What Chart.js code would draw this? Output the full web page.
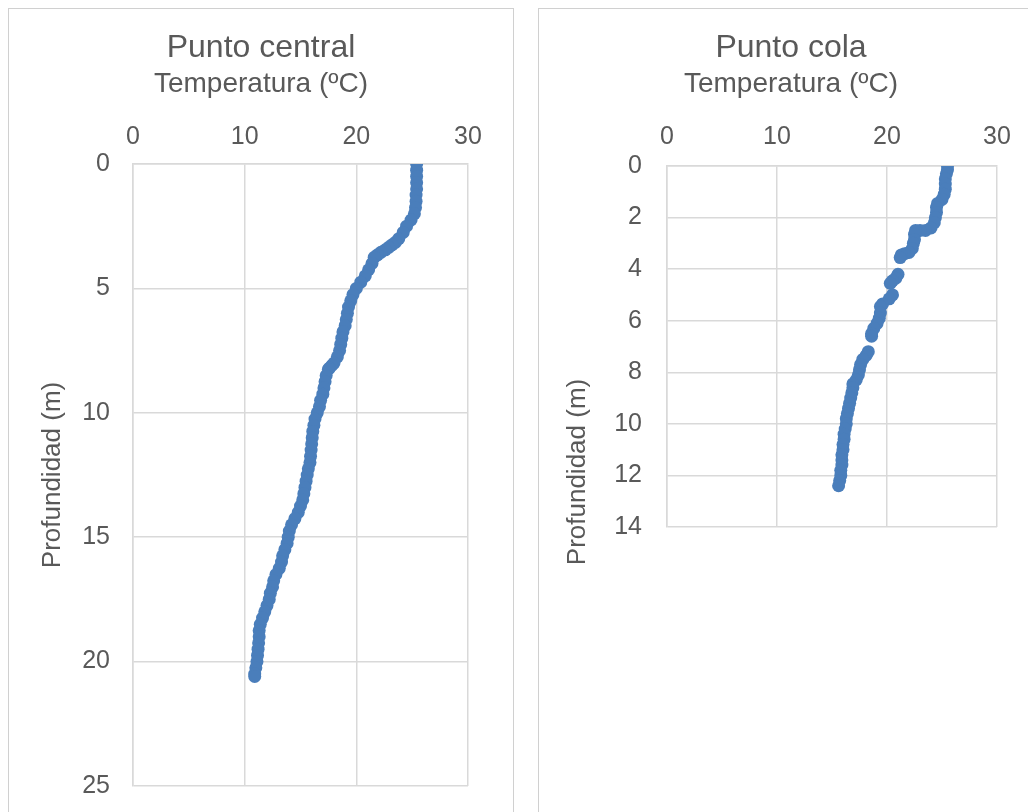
<!DOCTYPE html>
<html>
<head>
<meta charset="utf-8">
<script src="https://cdn.jsdelivr.net/npm/chart.js@4"></script>
<style>
  html, body { margin:0; padding:0; background:#ffffff; width:1028px; height:812px; overflow:hidden; }
  .panel { position:absolute; border:1px solid #d0d0d0; width:504px; height:830px; top:8px; }
  canvas { position:absolute; }
</style>
</head>
<body>
<div class="panel" style="left:8px"></div>
<div class="panel" style="left:538px"></div>
<canvas id="c1" width="502" height="814" style="left:10px;top:10px"></canvas>
<canvas id="c2" width="502" height="802" style="left:540px;top:10px"></canvas>
<script>
// ---- Data ----
const centralDepth = [0,0.25,0.5,0.75,1,1.25,1.5,1.75,2,2.25,2.5,2.75,3,3.15,3.25,3.35,3.45,3.55,3.65,3.75,4,4.25,4.5,4.75,5,5.25,5.5,5.75,6,6.25,6.5,6.75,7,7.25,7.5,7.75,8,8.1,8.2,8.25,8.5,8.75,9,9.25,9.5,9.75,10,10.25,10.5,10.75,11,11.25,11.5,11.75,12,12.25,12.5,12.75,13,13.25,13.5,13.75,14,14.25,14.5,14.75,15,15.25,15.5,15.75,16,16.25,16.5,16.75,17,17.25,17.5,17.75,18,18.25,18.5,18.75,19,19.25,19.5,19.75,20,20.25,20.5,20.6];
const centralTemp  = [25.4,25.4,25.4,25.4,25.4,25.35,25.35,25.3,25.2,24.9,24.5,24.2,23.8,23.5,23.2,22.9,22.6,22.2,21.9,21.6,21.4,21.1,20.8,20.4,20.0,19.7,19.5,19.3,19.2,19.1,19.0,18.8,18.7,18.6,18.5,18.3,18.0,17.8,17.6,17.5,17.3,17.2,17.1,17.0,16.8,16.7,16.5,16.3,16.2,16.1,16.05,16.0,15.95,15.9,15.85,15.7,15.6,15.5,15.4,15.3,15.2,15.0,14.8,14.5,14.2,14.0,13.9,13.8,13.6,13.4,13.3,13.1,12.8,12.6,12.5,12.3,12.2,12.0,11.8,11.6,11.4,11.3,11.3,11.25,11.2,11.15,11.1,11.0,10.9,10.9];

const colaDepth = [0,0.15,0.3,0.5,0.7,0.9,1.1,1.3,1.45,1.6,1.8,2.0,2.2,2.4,2.5,2.5,2.5,2.65,2.85,3.0,3.2,3.35,3.4,3.45,3.55,4.2,4.35,4.45,4.55,5.0,5.15,5.35,5.45,5.7,5.9,6.1,6.3,6.5,6.6,7.2,7.35,7.5,7.7,7.9,8.1,8.3,8.45,8.6,8.8,9.0,9.2,9.4,9.6,9.8,10.0,10.2,10.4,10.6,10.8,11.0,11.2,11.4,11.6,11.8,12.0,12.2,12.4];
const colaTemp  = [25.5,25.5,25.4,25.3,25.3,25.3,25.2,25.0,24.6,24.5,24.5,24.4,24.3,24.0,23.5,23.0,22.6,22.5,22.5,22.4,22.3,22.0,21.6,21.3,21.2,21.0,20.8,20.5,20.3,20.5,20.2,19.6,19.4,19.4,19.3,19.1,18.8,18.6,18.6,18.3,18.1,17.8,17.6,17.5,17.4,17.2,16.9,16.9,16.8,16.7,16.6,16.5,16.4,16.3,16.3,16.2,16.1,16.1,16.0,16.0,15.9,15.9,15.9,15.8,15.8,15.7,15.6];

const titles = ['Punto central', 'Punto cola'];
const xAxisTitle = 'Temperatura (ºC)';
const yAxisTitle = 'Profundidad (m)';
const xTicks = { min: 0, max: 30, step: 10 };
const yTicksCentral = { min: 0, max: 25, step: 5 };
const yTicksCola = { min: 0, max: 14, step: 2 };

// ---- Styling ----
Chart.defaults.font.family = '"Liberation Sans", Arial, sans-serif';
Chart.defaults.color = '#595959';
const TEXT = '#595959';
const GRID = '#d9d9d9';
const BLUE = '#4a7ebb';

const panelYTitle = {
  id: 'panelYTitle',
  afterDraw(chart, args, opts) {
    if (!opts || !opts.text) return;
    const ctx = chart.ctx;
    ctx.save();
    ctx.translate(opts.x, opts.y);
    ctx.rotate(-Math.PI / 2);
    ctx.font = '26px "Liberation Sans", Arial, sans-serif';
    ctx.fillStyle = TEXT;
    ctx.textAlign = 'center';
    ctx.textBaseline = 'middle';
    ctx.fillText(opts.text, 0, 0);
    ctx.restore();
  }
};

function makeChart(id, cfg) {
  const points = cfg.depth.map((d, i) => ({ x: cfg.temp[i], y: d }));
  return new Chart(document.getElementById(id), {
    type: 'scatter',
    data: { datasets: [{
      data: points,
      backgroundColor: BLUE,
      borderColor: BLUE,
      borderWidth: 0,
      pointRadius: 6.5,
      pointHoverRadius: 6.5,
      showLine: false
    }]},
    plugins: cfg.extraPlugins || [],
    options: {
      responsive: false,
      animation: false,
      devicePixelRatio: 1,
      layout: { padding: { top: 0, left: 0, right: 0, bottom: cfg.padBottom } },
      plugins: {
        legend: { display: false },
        tooltip: { enabled: false },
        title: { display: true, text: cfg.title, color: TEXT,
                 font: { size: 32, weight: 'normal' }, padding: { top: 18.8, bottom: 0 } },
        subtitle: { display: true, text: xAxisTitle, color: TEXT,
                    font: { size: 28, weight: 'normal' }, padding: { top: 0, bottom: 0 } },
        panelYTitle: cfg.yTitlePlugin || {}
      },
      scales: {
        x: {
          type: 'linear', position: 'top',
          min: xTicks.min, max: xTicks.max,
          ticks: { stepSize: xTicks.step, color: TEXT, font: { size: 25 }, padding: cfg.xTickPad, maxRotation: 0 },
          grid: { color: GRID, lineWidth: 1.5, drawTicks: false },
          border: { color: GRID, width: 1.5 },
          afterFit: s => { s.height = cfg.xHeight; }
        },
        y: {
          type: 'linear', position: 'left', reverse: true,
          min: cfg.yTicks.min, max: cfg.yTicks.max,
          ticks: { stepSize: cfg.yTicks.step, color: TEXT, font: { size: 25 }, padding: cfg.yTickPad },
          grid: { color: GRID, lineWidth: 1.5, drawTicks: false },
          border: { color: GRID, width: 1.5 },
          title: { display: cfg.showYTitle, text: yAxisTitle, color: TEXT,
                   font: { size: 26 }, padding: { top: 27.4, bottom: 0 } },
          afterFit: s => { s.width = cfg.yWidth; }
        },
        y2: {
          type: 'linear', position: 'right', display: true,
          ticks: { display: false },
          grid: { display: false, drawTicks: false },
          border: { display: false },
          afterFit: s => { s.width = cfg.rightWidth; }
        }
      }
    }
  });
}

makeChart('c1', {
  depth: centralDepth, temp: centralTemp, title: titles[0],
  yTicks: yTicksCentral, padBottom: 14, xHeight: 63.2, xTickPad: 12,
  yWidth: 123, yTickPad: 23, rightWidth: 44, showYTitle: true
});

makeChart('c2', {
  depth: colaDepth, temp: colaTemp, title: titles[1],
  yTicks: yTicksCola, padBottom: 285, xHeight: 65.2, xTickPad: 14,
  yWidth: 127, yTickPad: 25, rightWidth: 45, showYTitle: false,
  extraPlugins: [panelYTitle],
  yTitlePlugin: { text: yAxisTitle, x: 38, y: 462 }
});
</script>
</body>
</html>
